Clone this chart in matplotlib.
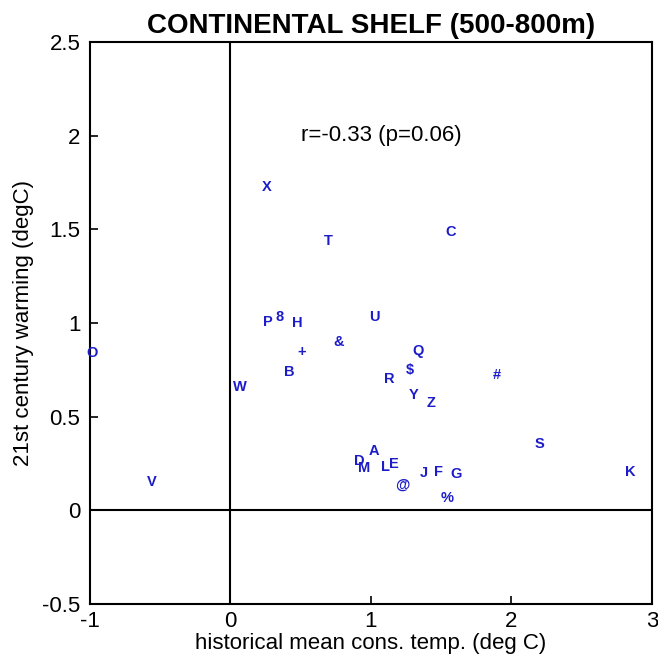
import matplotlib
matplotlib.use('Agg')
import matplotlib.pyplot as plt

plt.rcParams['font.family'] = ['Liberation Sans', 'DejaVu Sans']

# model labels and their values
labels = ['X', 'T', 'C', 'P', '8', 'H', 'U', 'O', '+', '&', 'Q', 'B', '$', 'R', '#', 'W',
          'Y', 'Z', 'S', 'A', 'D', 'M', 'L', 'E', 'J', 'F', 'G', 'K', '@', '%', 'V']
hist_temp = [0.256, 0.694, 1.569, 0.267, 0.352, 0.473, 1.021, -0.986, 0.509, 0.772, 1.335,
             0.416, 1.278, 1.128, 1.897, 0.068, 1.306, 1.427, 2.196, 1.021, 0.915, 0.950,
             1.100, 1.164, 1.377, 1.484, 1.605, 2.843, 1.221, 1.541, -0.559]
warming = [1.726, 1.438, 1.486, 1.005, 1.032, 1.000, 1.032, 0.840, 0.845, 0.899, 0.850,
           0.738, 0.749, 0.701, 0.722, 0.658, 0.616, 0.573, 0.354, 0.317, 0.263, 0.226,
           0.231, 0.247, 0.199, 0.205, 0.194, 0.205, 0.135, 0.066, 0.151]

fig = plt.figure(figsize=(6.58, 6.64), dpi=100)
ax = fig.add_axes([0.1368, 0.0904, 0.854, 0.846])

for lab, x, y in zip(labels, hist_temp, warming):
    ax.text(x, y, lab, color='#1c1cc8', fontsize=10.5, fontweight='bold',
            ha='center', va='center')

ax.axhline(0, color='black', lw=1.5)
ax.axvline(0, color='black', lw=1.5)

ax.text(0.5, 2.0, 'r=-0.33 (p=0.06)', fontsize=16, va='center', ha='left')

ax.set_xlim(-1, 3)
ax.set_ylim(-0.5, 2.5)
ax.set_xticks([-1, 0, 1, 2, 3])
ax.set_yticks([-0.5, 0, 0.5, 1, 1.5, 2, 2.5])
ax.set_xticklabels(['-1', '0', '1', '2', '3'])
ax.set_yticklabels(['-0.5', '0', '0.5', '1', '1.5', '2', '2.5'])
ax.tick_params(direction='in', labelsize=16, length=6, width=1.2)
ax.tick_params(axis='x', pad=5)
ax.tick_params(axis='y', pad=7)
for s in ax.spines.values():
    s.set_linewidth(1.5)

ax.set_xlabel('historical mean cons. temp. (deg C)', fontsize=16, labelpad=1)
ax.set_ylabel('21st century warming (degC)', fontsize=16, labelpad=6)
ax.set_title('CONTINENTAL SHELF (500-800m)', fontsize=20, fontweight='bold', pad=7)

fig.savefig('out.png', dpi=100)
